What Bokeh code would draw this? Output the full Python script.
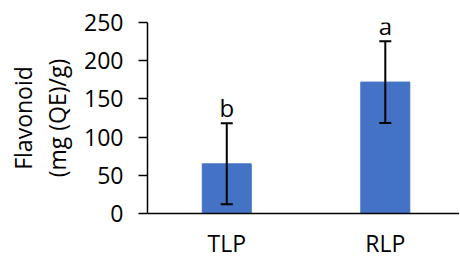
from bokeh.plotting import figure
from bokeh.models import Range1d, FixedTicker, Whisker, ColumnDataSource, TeeHead, LabelSet
from bokeh.embed import file_html
from bokeh.resources import INLINE
from bokeh.core.properties import value

categories = ["TLP", "RLP"]
means = [65, 172]
errors = [53, 53.5]
letters = ["b", "a"]
y_ticks = [0, 50, 100, 150, 200, 250]

xpos = [i + 0.5 for i in range(len(categories))]
lower = [m - e for m, e in zip(means, errors)]
upper = [m + e for m, e in zip(means, errors)]

src = ColumnDataSource(dict(x=xpos, top=means, lower=lower, upper=upper, letter=letters))

FONT = "Open Sans"

p = figure(frame_width=312, frame_height=191, output_backend="svg", toolbar_location=None,
           x_range=Range1d(0, 1.968), y_range=Range1d(0, 250),
           min_border_left=147, min_border_top=22, min_border_bottom=44, min_border_right=0)
p.outline_line_color = None
p.grid.visible = False

p.vbar(x="x", top="top", bottom=0, width=0.309, source=src, fill_color="#4472C4", line_color="#4472C4")

w = Whisker(base="x", lower="lower", upper="upper", source=src, line_color="black", line_width=2,
            upper_head=TeeHead(size=12, line_color="black", line_width=2),
            lower_head=TeeHead(size=12, line_color="black", line_width=2))
w.level = "overlay"
p.add_layout(w)

labels = LabelSet(x="x", y="upper", text="letter", source=src, text_align="center",
                  text_baseline="alphabetic", y_offset=6, text_font=value(FONT),
                  text_font_size=value("24px"), text_color="black")
p.add_layout(labels)

p.yaxis.ticker = FixedTicker(ticks=y_ticks)
p.yaxis.axis_label = "Flavonoid\n(mg (QE)/g)"
p.yaxis.axis_label_text_font = FONT
p.yaxis.axis_label_text_font_size = "23px"
p.yaxis.axis_label_text_font_style = "normal"
p.yaxis.axis_label_text_color = "black"
p.yaxis.axis_label_text_line_height = 1.05
p.yaxis.axis_label_standoff = 8
p.yaxis.major_label_text_font = FONT
p.yaxis.major_label_text_font_size = "23px"
p.yaxis.major_label_text_color = "black"
p.yaxis.major_tick_out = 9
p.yaxis.major_tick_in = 0
p.yaxis.minor_tick_out = 0
p.yaxis.minor_tick_in = 0
p.yaxis.major_label_standoff = 15
p.yaxis.axis_line_width = 1.5
p.yaxis.major_tick_line_width = 1.5
p.yaxis.axis_line_color = "black"

p.xaxis.ticker = FixedTicker(ticks=xpos)
p.xaxis.major_label_overrides = {x: c for x, c in zip(xpos, categories)}
p.xaxis.major_label_text_font = FONT
p.xaxis.major_label_text_font_size = "23px"
p.xaxis.major_label_text_color = "black"
p.xaxis.major_tick_out = 0
p.xaxis.major_tick_in = 0
p.xaxis.minor_tick_out = 0
p.xaxis.minor_tick_in = 0
p.xaxis.major_label_standoff = 13
p.xaxis.axis_line_width = 1.5
p.xaxis.axis_line_color = "black"

open("out.html", "w").write(file_html(p, INLINE))
